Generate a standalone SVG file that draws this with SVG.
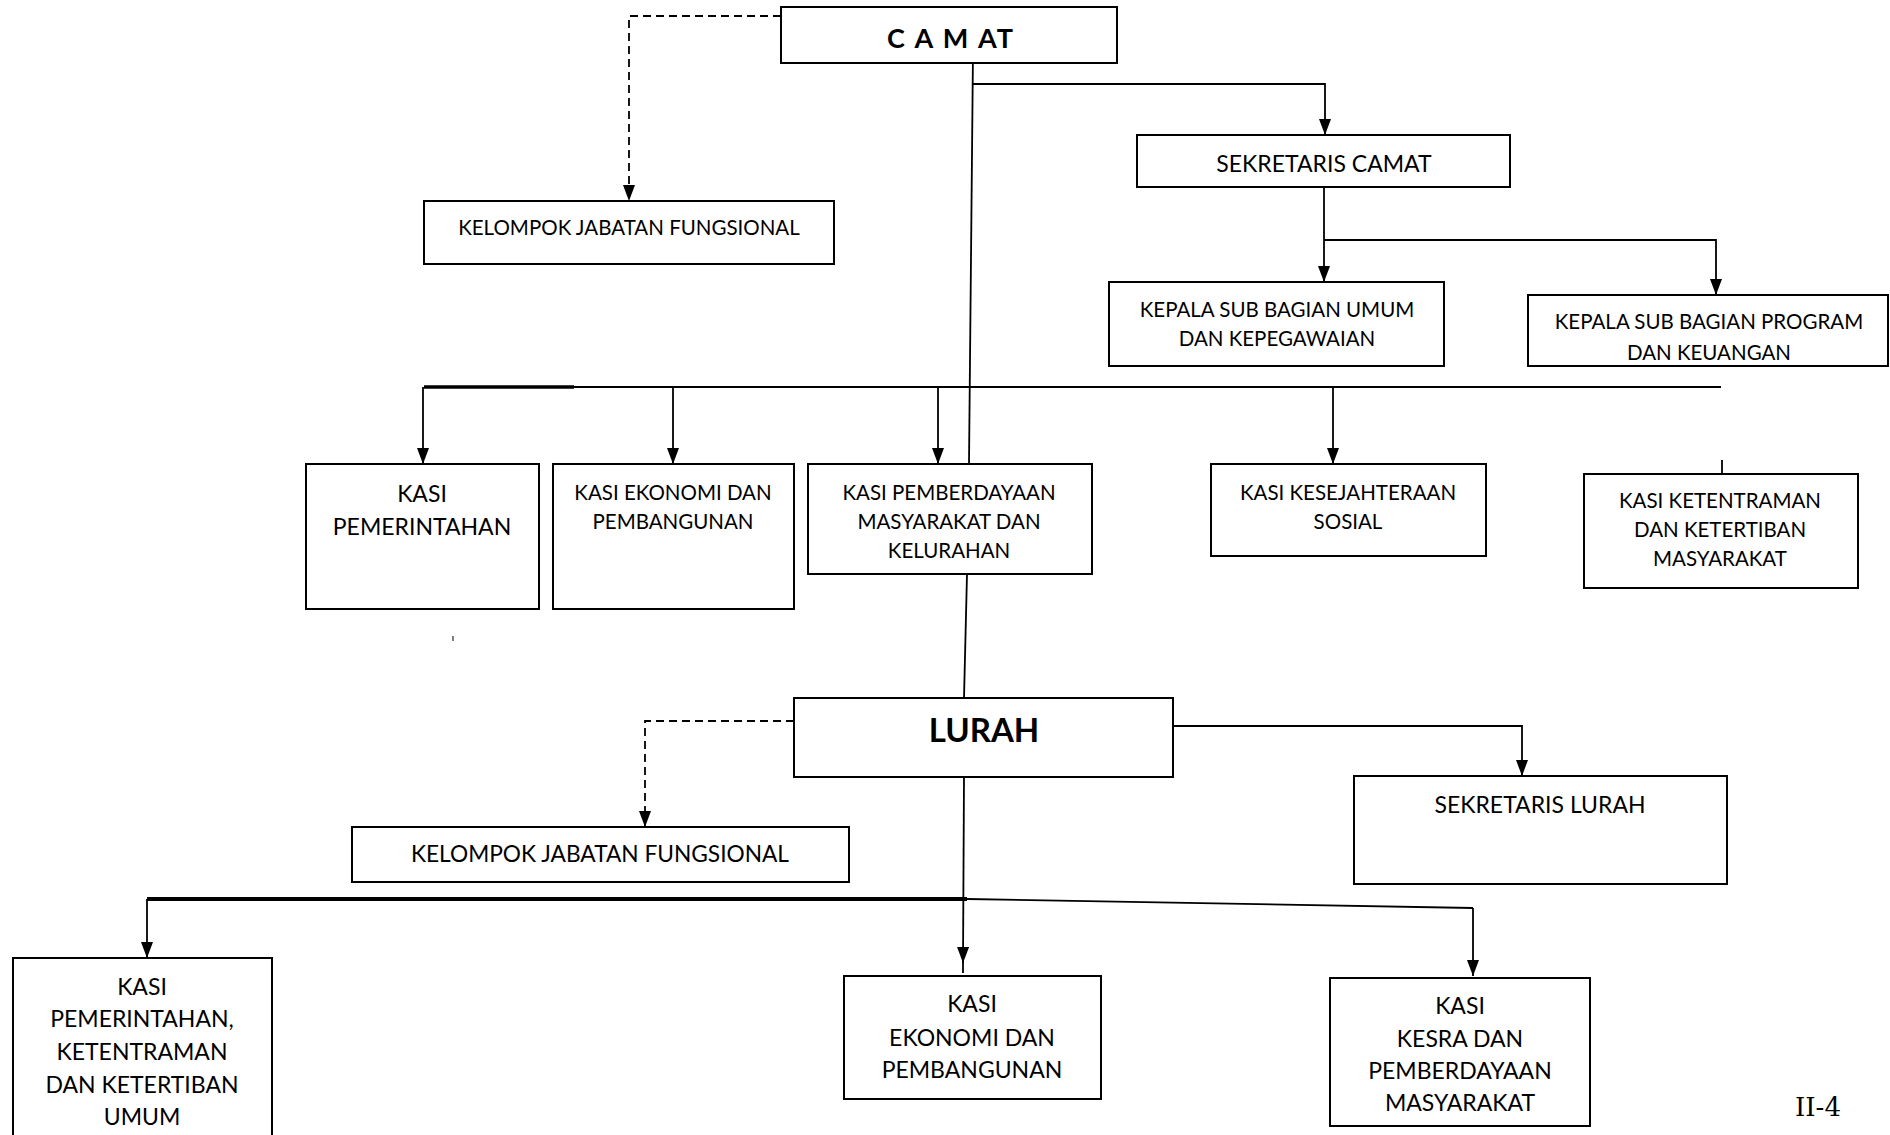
<svg xmlns="http://www.w3.org/2000/svg" width="1890" height="1135" viewBox="0 0 1890 1135">
<style>
.box{fill:#fff;stroke:#000;stroke-width:2}
.t{font-family:Lato,"Open Sans","Liberation Sans",sans-serif;fill:#000;text-anchor:middle;dominant-baseline:central}
.s19{font-size:20.5px}
.s20{font-size:23px}
.s21{font-size:23px}
.b{font-weight:bold}
.ln{fill:none;stroke:#000;stroke-width:1.8}
.dash{stroke-dasharray:8 5}
</style>
<defs>
<marker id="arr" viewBox="0 0 16 12" refX="16" refY="6" markerWidth="16" markerHeight="12" markerUnits="userSpaceOnUse" orient="auto">
<path d="M0,0 L16,6 L0,12 z" fill="#000"/>
</marker>
</defs>
<rect width="1890" height="1135" fill="#fff"/>

<g id="connectors">
<path class="ln dash" d="M781,16 H629 V201" marker-end="url(#arr)"/>
<path class="ln" d="M973,51 L969,464"/>
<path class="ln" d="M967,574 L964,698"/>
<path class="ln" d="M973,84 H1325 V135" marker-end="url(#arr)"/>
<path class="ln" d="M1324,187 V282" marker-end="url(#arr)"/>
<path class="ln" d="M1324,240 H1716 V295" marker-end="url(#arr)"/>
<path class="ln" d="M424,387 H1721"/>
<path class="ln" style="stroke-width:3.5" d="M424,387 H574"/>
<path class="ln" d="M423,387 V464" marker-end="url(#arr)"/>
<path class="ln" d="M673,387 V464" marker-end="url(#arr)"/>
<path class="ln" d="M938,387 V464" marker-end="url(#arr)"/>
<path class="ln" d="M1333,387 V464" marker-end="url(#arr)"/>
<path class="ln" d="M1722,460 V473"/>
<path class="ln" style="stroke-width:1" d="M453,636 V641"/>
<path class="ln dash" d="M794,721 H645 V827" marker-end="url(#arr)"/>
<path class="ln" d="M1173,726 H1522 V776" marker-end="url(#arr)"/>
<path class="ln" d="M964,777 L963,963" marker-end="url(#arr)"/>
<path class="ln" d="M963,960 V973"/>
<path class="ln" style="stroke-width:4" d="M147,899 H967"/>
<path class="ln" d="M967,899 L1473,908"/>
<path class="ln" d="M1473,908 V976" marker-end="url(#arr)"/>
<path class="ln" d="M147,899 V958" marker-end="url(#arr)"/>
</g>

<g id="camat">
<rect class="box" x="781" y="7" width="336" height="56"/>
<text class="t b" x="951" y="37" style="font-size:27px" letter-spacing="2">C A M AT</text>
</g>

<g id="kelompok-camat">
<rect class="box" x="424" y="201" width="410" height="63"/>
<text class="t s19" x="629" y="227">KELOMPOK JABATAN FUNGSIONAL</text>
</g>

<g id="sekretaris-camat">
<rect class="box" x="1137" y="135" width="373" height="52"/>
<text class="t s20" x="1324" y="163">SEKRETARIS CAMAT</text>
</g>

<g id="kasubag-umum">
<rect class="box" x="1109" y="282" width="335" height="84"/>
<text class="t s19" x="1277" y="309">KEPALA SUB BAGIAN UMUM</text>
<text class="t s19" x="1277" y="338">DAN KEPEGAWAIAN</text>
</g>

<g id="kasubag-program">
<text class="t s19" x="1709" y="321">KEPALA SUB BAGIAN PROGRAM</text>
<text class="t s19" x="1709" y="352">DAN KEUANGAN</text>
<rect x="1528" y="295" width="360" height="71" fill="none" stroke="#000" stroke-width="2"/>
</g>

<g id="kasi-pemerintahan">
<rect class="box" x="306" y="464" width="233" height="145"/>
<text class="t s21" x="422" y="493">KASI</text>
<text class="t s21" x="422" y="526">PEMERINTAHAN</text>
</g>

<g id="kasi-ekonomi">
<rect class="box" x="553" y="464" width="241" height="145"/>
<text class="t s19" x="673" y="492">KASI EKONOMI DAN</text>
<text class="t s19" x="673" y="521">PEMBANGUNAN</text>
</g>

<g id="kasi-pemberdayaan">
<rect class="box" x="808" y="464" width="284" height="110"/>
<text class="t s19" x="949" y="492">KASI PEMBERDAYAAN</text>
<text class="t s19" x="949" y="521">MASYARAKAT DAN</text>
<text class="t s19" x="949" y="550">KELURAHAN</text>
</g>

<g id="kasi-kesejahteraan">
<rect class="box" x="1211" y="464" width="275" height="92"/>
<text class="t s19" x="1348" y="492">KASI KESEJAHTERAAN</text>
<text class="t s19" x="1348" y="521">SOSIAL</text>
</g>

<g id="kasi-ketentraman">
<rect class="box" x="1584" y="474" width="274" height="114"/>
<text class="t s19" x="1720" y="500">KASI KETENTRAMAN</text>
<text class="t s19" x="1720" y="529">DAN KETERTIBAN</text>
<text class="t s19" x="1720" y="558">MASYARAKAT</text>
</g>

<g id="lurah">
<rect class="box" x="794" y="698" width="379" height="79"/>
<text class="t b" x="984" y="729" style="font-size:33px">LURAH</text>
</g>

<g id="kelompok-lurah">
<rect class="box" x="352" y="827" width="497" height="55"/>
<text class="t" x="600" y="853" style="font-size:22.7px">KELOMPOK JABATAN FUNGSIONAL</text>
</g>

<g id="sekretaris-lurah">
<rect class="box" x="1354" y="776" width="373" height="108"/>
<text class="t s20" x="1540" y="804">SEKRETARIS LURAH</text>
</g>

<g id="kasi-pemerintahan-kel">
<rect class="box" x="13" y="958" width="259" height="190"/>
<text class="t s21" x="142" y="986">KASI</text>
<text class="t s21" x="142" y="1018">PEMERINTAHAN,</text>
<text class="t s21" x="142" y="1051">KETENTRAMAN</text>
<text class="t s21" x="142" y="1084">DAN KETERTIBAN</text>
<text class="t s21" x="142" y="1116">UMUM</text>
</g>

<g id="kasi-ekonomi-kel">
<rect class="box" x="844" y="976" width="257" height="123"/>
<text class="t s21" x="972" y="1003">KASI</text>
<text class="t s21" x="972" y="1037">EKONOMI DAN</text>
<text class="t s21" x="972" y="1069">PEMBANGUNAN</text>
</g>

<g id="kasi-kesra-kel">
<rect class="box" x="1330" y="978" width="260" height="148"/>
<text class="t s21" x="1460" y="1005">KASI</text>
<text class="t s21" x="1460" y="1038">KESRA DAN</text>
<text class="t s21" x="1460" y="1070">PEMBERDAYAAN</text>
<text class="t s21" x="1460" y="1102">MASYARAKAT</text>
</g>

<text x="1818" y="1107" style="font-family:'DejaVu Serif','Liberation Serif',serif;font-size:26px" text-anchor="middle" dominant-baseline="central">II-4</text>
</svg>
